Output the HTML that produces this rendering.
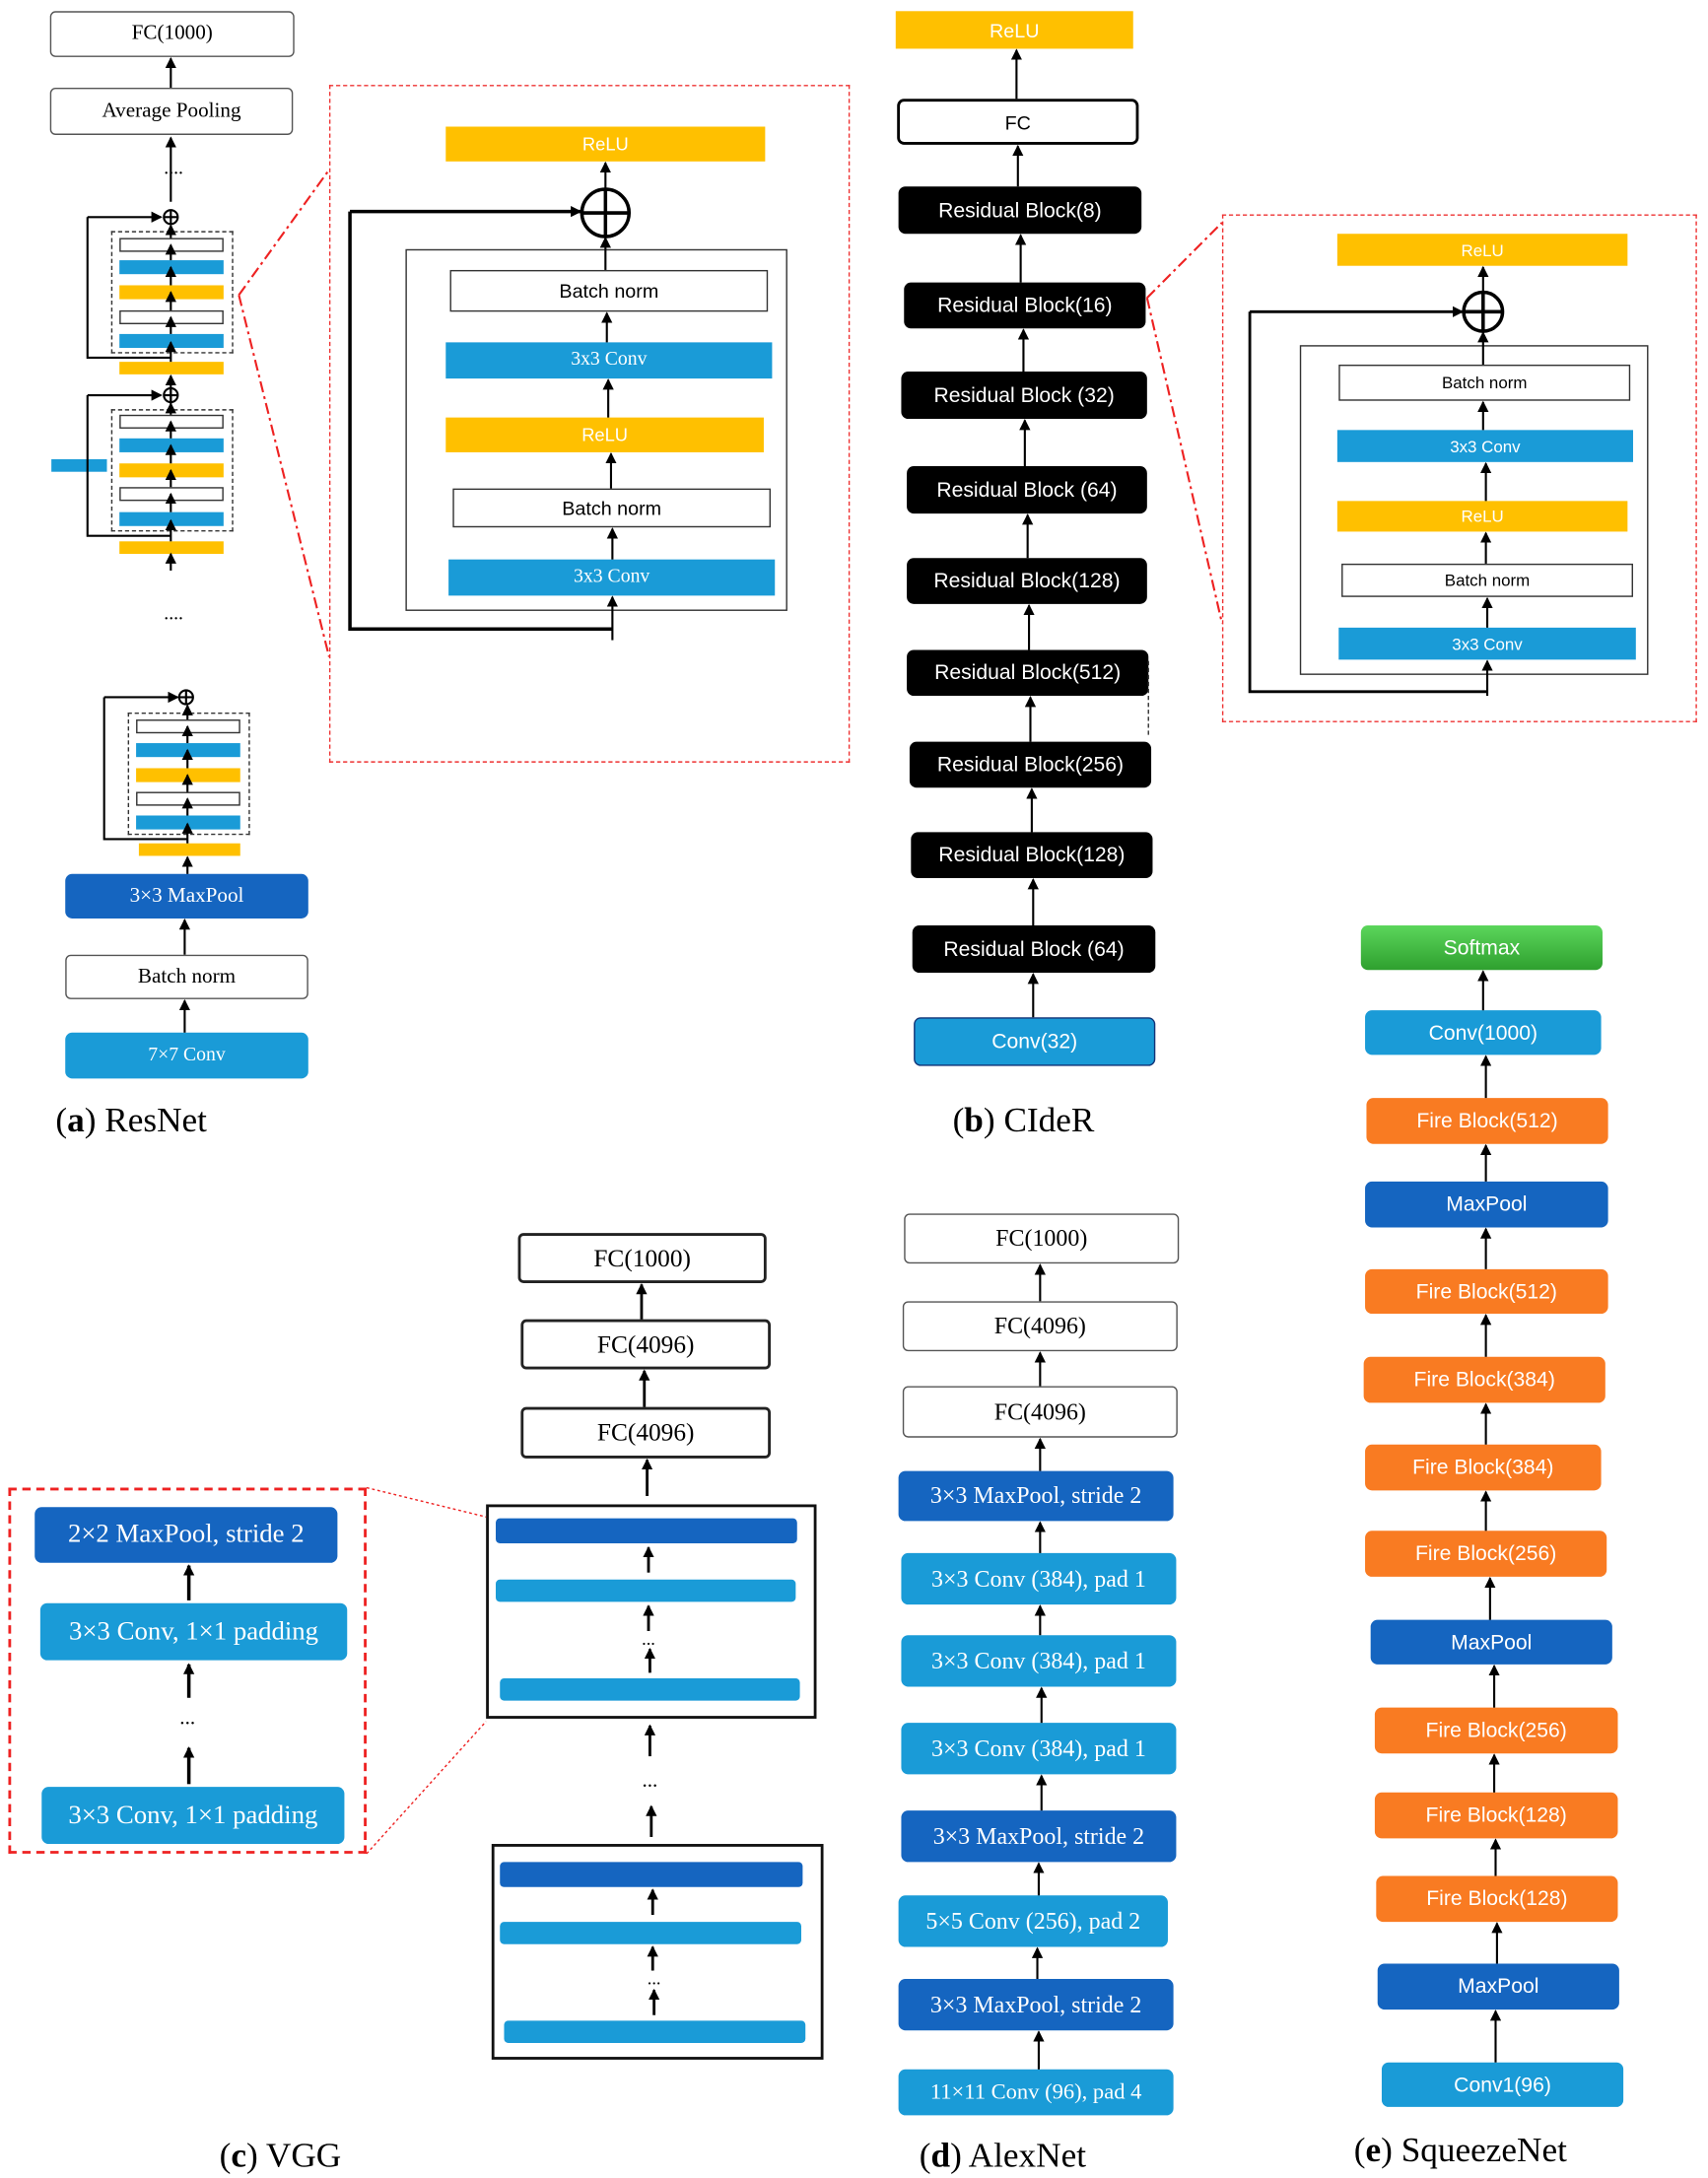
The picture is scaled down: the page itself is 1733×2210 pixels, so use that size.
<!DOCTYPE html>
<html><head><meta charset="utf-8">
<style>
html,body{margin:0;padding:0;background:#fff;}
body{width:1733px;height:2210px;overflow:hidden;position:relative;}
#c{position:absolute;left:0;top:0;width:1225px;height:1565px;transform:scale(1.409,1.4121);transform-origin:0 0;}
.b{position:absolute;box-sizing:border-box;display:flex;align-items:center;justify-content:center;font-family:"Liberation Sans",sans-serif;white-space:nowrap;}
.s{font-family:"Liberation Serif",serif;}
.w{background:#fff;border:1.5px solid #555;border-radius:4px;color:#000;}
.wk{background:#fff;border:1px solid #333;color:#000;}
.bl{background:#1a9bd7;color:#fff;}
.db{background:#1565c0;color:#fff;}
.y{background:#ffc000;color:#fff;}
.k{background:#000;color:#fff;border-radius:5px;font-size:15px;}
.o{background:#f97b22;color:#fff;border-radius:5px;font-size:15px;}
.r{border-radius:5px;}
.cap{position:absolute;font-family:"Liberation Serif",serif;font-size:25px;white-space:nowrap;}
.bar{position:absolute;box-sizing:border-box;}
</style></head><body><div id="c">

<!-- ResNet -->
<div class="b w s" style="left:36px;top:8px;width:176px;height:33px;font-size:15px">FC(1000)</div>
<div class="b w s" style="left:36px;top:63px;width:175px;height:34px;font-size:15px">Average Pooling</div>
<div class="b s" style="left:100px;top:112px;width:50px;height:20px;font-size:14px">....</div>
<div class="b s" style="left:100px;top:432px;width:50px;height:20px;font-size:14px">....</div>
<div class="bar" style="left:80px;top:166px;width:88px;height:88px;border:1.5px dashed #333"></div>
<div class="bar wk" style="left:86px;top:171px;width:75px;height:10px"></div>
<div class="bar bl" style="left:86px;top:187px;width:75px;height:10px"></div>
<div class="bar y" style="left:86px;top:205px;width:75px;height:10px"></div>
<div class="bar wk" style="left:86px;top:223px;width:75px;height:10px"></div>
<div class="bar bl" style="left:86px;top:240px;width:75px;height:10px"></div>
<div class="bar y" style="left:86px;top:260px;width:75px;height:9px"></div>
<div class="bar" style="left:80px;top:294px;width:88px;height:88px;border:1.5px dashed #333"></div>
<div class="bar wk" style="left:86px;top:298px;width:75px;height:10px"></div>
<div class="bar bl" style="left:86px;top:315px;width:75px;height:10px"></div>
<div class="bar y" style="left:86px;top:333px;width:75px;height:10px"></div>
<div class="bar wk" style="left:86px;top:350px;width:75px;height:10px"></div>
<div class="bar bl" style="left:86px;top:368px;width:75px;height:10px"></div>
<div class="bar y" style="left:86px;top:389px;width:75px;height:9px"></div>
<div class="bar bl" style="left:37px;top:330px;width:40px;height:9px"></div>
<div class="bar" style="left:92px;top:512px;width:88px;height:88px;border:1.5px dashed #333"></div>
<div class="bar wk" style="left:98px;top:517px;width:75px;height:10px"></div>
<div class="bar bl" style="left:98px;top:534px;width:75px;height:10px"></div>
<div class="bar y" style="left:98px;top:552px;width:75px;height:10px"></div>
<div class="bar wk" style="left:98px;top:569px;width:75px;height:10px"></div>
<div class="bar bl" style="left:98px;top:586px;width:75px;height:10px"></div>
<div class="bar y" style="left:100px;top:606px;width:73px;height:9px"></div>
<div class="b db s r" style="left:47px;top:628px;width:175px;height:32px;font-size:15px">3×3 MaxPool</div>
<div class="b w s" style="left:47px;top:686px;width:175px;height:32px;font-size:15px">Batch norm</div>
<div class="b bl s r" style="left:47px;top:742px;width:175px;height:33px;font-size:14px">7×7 Conv</div>
<div class="cap" style="left:40px;top:792px">(<b>a</b>) ResNet</div>

<!-- ResNet zoom -->
<div class="bar" style="left:237px;top:61px;width:375px;height:487px;border:1.5px dashed #e33"></div>
<div class="b y" style="left:321px;top:91px;width:230px;height:25px;font-size:13px">ReLU</div>
<div class="bar" style="left:292px;top:179px;width:275px;height:260px;border:1.5px solid #333"></div>
<div class="b wk" style="left:324px;top:194px;width:229px;height:30px;font-size:14px">Batch norm</div>
<div class="b bl s" style="left:321px;top:246px;width:235px;height:26px;font-size:14px">3x3 Conv</div>
<div class="b y" style="left:321px;top:300px;width:229px;height:25px;font-size:13px">ReLU</div>
<div class="b wk" style="left:326px;top:351px;width:229px;height:28px;font-size:14px">Batch norm</div>
<div class="b bl s" style="left:323px;top:402px;width:235px;height:26px;font-size:14px">3x3 Conv</div>

<!-- CIdeR -->
<div class="b y" style="left:645px;top:8px;width:171px;height:27px;font-size:14px">ReLU</div>
<div class="b" style="left:646px;top:71px;width:174px;height:33px;font-size:14px;border:2px solid #000;border-radius:5px">FC</div>
<div class="b k" style="left:647px;top:134px;width:175px;height:34px">Residual Block(8)</div>
<div class="b k" style="left:651px;top:203px;width:174px;height:33px">Residual Block(16)</div>
<div class="b k" style="left:649px;top:267px;width:177px;height:34px">Residual Block (32)</div>
<div class="b k" style="left:653px;top:335px;width:173px;height:34px">Residual Block (64)</div>
<div class="b k" style="left:653px;top:401px;width:173px;height:33px">Residual Block(128)</div>
<div class="b k" style="left:653px;top:467px;width:174px;height:33px">Residual Block(512)</div>
<div class="b k" style="left:655px;top:533px;width:174px;height:33px">Residual Block(256)</div>
<div class="b k" style="left:656px;top:598px;width:174px;height:33px">Residual Block(128)</div>
<div class="b k" style="left:657px;top:665px;width:175px;height:34px">Residual Block (64)</div>
<div class="b bl r" style="left:658px;top:731px;width:174px;height:35px;font-size:15px;border:1px solid #137">Conv(32)</div>
<div class="cap" style="left:686px;top:792px">(<b>b</b>) CIdeR</div>

<!-- CIdeR zoom -->
<div class="bar" style="left:880px;top:154px;width:342px;height:365px;border:1.5px dashed #e33"></div>
<div class="b y" style="left:963px;top:168px;width:209px;height:23px;font-size:12px">ReLU</div>
<div class="bar" style="left:936px;top:248px;width:251px;height:237px;border:1.5px solid #333"></div>
<div class="b wk" style="left:964px;top:262px;width:210px;height:26px;font-size:12px">Batch norm</div>
<div class="b bl" style="left:963px;top:309px;width:213px;height:23px;font-size:12px">3x3 Conv</div>
<div class="b y" style="left:963px;top:360px;width:209px;height:22px;font-size:12px">ReLU</div>
<div class="b wk" style="left:966px;top:405px;width:210px;height:24px;font-size:12px">Batch norm</div>
<div class="b bl" style="left:964px;top:451px;width:214px;height:23px;font-size:12px">3x3 Conv</div>

<!-- SqueezeNet -->
<div class="b r" style="left:980px;top:665px;width:174px;height:32px;font-size:15px;color:#fff;background:linear-gradient(#5cd65c,#2ea02e)">Softmax</div>
<div class="b bl r" style="left:983px;top:726px;width:170px;height:32px;font-size:15px">Conv(1000)</div>
<div class="b o" style="left:984px;top:789px;width:174px;height:33px">Fire Block(512)</div>
<div class="b db r" style="left:983px;top:849px;width:175px;height:33px;font-size:15px">MaxPool</div>
<div class="b o" style="left:983px;top:912px;width:175px;height:32px">Fire Block(512)</div>
<div class="b o" style="left:982px;top:975px;width:174px;height:33px">Fire Block(384)</div>
<div class="b o" style="left:983px;top:1038px;width:170px;height:33px">Fire Block(384)</div>
<div class="b o" style="left:983px;top:1100px;width:174px;height:33px">Fire Block(256)</div>
<div class="b db r" style="left:987px;top:1164px;width:174px;height:32px;font-size:15px">MaxPool</div>
<div class="b o" style="left:990px;top:1227px;width:175px;height:33px">Fire Block(256)</div>
<div class="b o" style="left:990px;top:1288px;width:175px;height:33px">Fire Block(128)</div>
<div class="b o" style="left:991px;top:1348px;width:174px;height:33px">Fire Block(128)</div>
<div class="b db r" style="left:992px;top:1411px;width:174px;height:33px;font-size:15px">MaxPool</div>
<div class="b bl r" style="left:995px;top:1482px;width:174px;height:32px;font-size:15px">Conv1(96)</div>
<div class="cap" style="left:975px;top:1532px">(<b>e</b>) SqueezeNet</div>

<!-- AlexNet -->
<div class="b w s" style="left:651px;top:872px;width:198px;height:36px;font-size:17px">FC(1000)</div>
<div class="b w s" style="left:650px;top:935px;width:198px;height:36px;font-size:17px">FC(4096)</div>
<div class="b w s" style="left:650px;top:996px;width:198px;height:37px;font-size:17px">FC(4096)</div>
<div class="b db s r" style="left:647px;top:1057px;width:198px;height:36px;font-size:17px">3×3 MaxPool, stride 2</div>
<div class="b bl s r" style="left:649px;top:1116px;width:198px;height:37px;font-size:17px">3×3 Conv (384), pad 1</div>
<div class="b bl s r" style="left:649px;top:1175px;width:198px;height:37px;font-size:17px">3×3 Conv (384), pad 1</div>
<div class="b bl s r" style="left:649px;top:1238px;width:198px;height:37px;font-size:17px">3×3 Conv (384), pad 1</div>
<div class="b db s r" style="left:649px;top:1301px;width:198px;height:37px;font-size:17px">3×3 MaxPool, stride 2</div>
<div class="b bl s r" style="left:647px;top:1362px;width:194px;height:37px;font-size:17px">5×5 Conv (256), pad 2</div>
<div class="b db s r" style="left:647px;top:1422px;width:198px;height:37px;font-size:17px">3×3 MaxPool, stride 2</div>
<div class="b bl s r" style="left:647px;top:1487px;width:198px;height:33px;font-size:16px">11×11 Conv (96), pad 4</div>
<div class="cap" style="left:662px;top:1536px">(<b>d</b>) AlexNet</div>

<!-- VGG -->
<div class="b w s" style="left:373px;top:886px;width:179px;height:36px;font-size:18px;border:2px solid #222">FC(1000)</div>
<div class="b w s" style="left:375px;top:948px;width:180px;height:36px;font-size:18px;border:2px solid #222">FC(4096)</div>
<div class="b w s" style="left:375px;top:1011px;width:180px;height:37px;font-size:18px;border:2px solid #222">FC(4096)</div>
<div class="bar" style="left:350px;top:1081px;width:238px;height:154px;border:2px solid #111"></div>
<div class="bar db" style="left:357px;top:1091px;width:217px;height:18px;border-radius:3px"></div>
<div class="bar bl" style="left:357px;top:1135px;width:216px;height:16px;border-radius:3px"></div>
<div class="bar bl" style="left:360px;top:1206px;width:216px;height:16px;border-radius:3px"></div>
<div class="bar" style="left:354px;top:1325px;width:239px;height:155px;border:2px solid #111"></div>
<div class="bar db" style="left:360px;top:1338px;width:218px;height:18px;border-radius:3px"></div>
<div class="bar bl" style="left:360px;top:1381px;width:217px;height:16px;border-radius:3px"></div>
<div class="bar bl" style="left:363px;top:1452px;width:217px;height:16px;border-radius:3px"></div>
<div class="b s" style="left:443px;top:1270px;width:50px;height:20px;font-size:15px">...</div>
<div class="b s" style="left:442px;top:1168px;width:50px;height:20px;font-size:13px">...</div>
<div class="b s" style="left:446px;top:1412px;width:50px;height:20px;font-size:13px">...</div>
<div class="bar" style="left:6px;top:1069px;width:258px;height:263px;border:2px dashed #e22"></div>
<div class="b db s r" style="left:25px;top:1083px;width:218px;height:40px;font-size:19px">2×2 MaxPool, stride 2</div>
<div class="b bl s r" style="left:29px;top:1152px;width:221px;height:41px;font-size:19px">3×3 Conv, 1×1 padding</div>
<div class="b s" style="left:110px;top:1225px;width:50px;height:20px;font-size:15px">...</div>
<div class="b bl s r" style="left:30px;top:1284px;width:218px;height:41px;font-size:19px">3×3 Conv, 1×1 padding</div>
<div class="cap" style="left:158px;top:1536px">(<b>c</b>) VGG</div>

<svg style="position:absolute;left:0;top:0" width="1225" height="1565">
<defs><marker id="a" markerWidth="8" markerHeight="8" refX="7" refY="4" orient="auto" markerUnits="userSpaceOnUse"><path d="M0,0 L8,4 L0,8 z" fill="#000"/></marker></defs>
<g stroke="#000" stroke-width="1.5" fill="none" marker-end="url(#a)">
<line x1="123" y1="63" x2="123" y2="42"/>
<line x1="123" y1="145" x2="123" y2="99"/>
<line x1="123" y1="260" x2="123" y2="246"/><line x1="123" y1="240" x2="123" y2="228"/><line x1="123" y1="223" x2="123" y2="210"/><line x1="123" y1="205" x2="123" y2="192"/><line x1="123" y1="187" x2="123" y2="176"/><line x1="123" y1="171" x2="123" y2="162"/>
<line x1="63" y1="156" x2="116" y2="156"/>
<line x1="123" y1="290" x2="123" y2="270"/>
<line x1="123" y1="389" x2="123" y2="374"/><line x1="123" y1="368" x2="123" y2="355"/><line x1="123" y1="350" x2="123" y2="338"/><line x1="123" y1="333" x2="123" y2="320"/><line x1="123" y1="315" x2="123" y2="303"/><line x1="123" y1="298" x2="123" y2="290"/>
<line x1="63" y1="284" x2="116" y2="284"/>
<line x1="123" y1="410" x2="123" y2="398"/>
<line x1="135" y1="606" x2="135" y2="592"/><line x1="135" y1="586" x2="135" y2="574"/><line x1="135" y1="569" x2="135" y2="557"/><line x1="135" y1="552" x2="135" y2="539"/><line x1="135" y1="534" x2="135" y2="522"/><line x1="135" y1="517" x2="135" y2="507"/>
<line x1="75" y1="501" x2="128" y2="501"/>
<line x1="135" y1="628" x2="135" y2="616"/>
<line x1="133" y1="686" x2="133" y2="661"/>
<line x1="133" y1="742" x2="133" y2="719"/>
<line x1="436" y1="136" x2="436" y2="117"/>
<line x1="436" y1="194" x2="436" y2="171"/>
<line x1="437" y1="246" x2="437" y2="225"/>
<line x1="438" y1="300" x2="438" y2="273"/>
<line x1="440" y1="351" x2="440" y2="326"/>
<line x1="441" y1="402" x2="441" y2="380"/>
<line x1="441" y1="460" x2="441" y2="429"/>
<line x1="252" y1="152" x2="418" y2="152" stroke-width="2.5"/>
<line x1="732" y1="71" x2="732" y2="36"/><line x1="733" y1="134" x2="733" y2="105"/><line x1="735" y1="203" x2="735" y2="169"/><line x1="737" y1="267" x2="737" y2="237"/><line x1="738" y1="335" x2="738" y2="302"/><line x1="740" y1="401" x2="740" y2="370"/><line x1="741" y1="467" x2="741" y2="435"/><line x1="742" y1="533" x2="742" y2="501"/><line x1="743" y1="598" x2="743" y2="567"/><line x1="744" y1="665" x2="744" y2="632"/><line x1="744" y1="731" x2="744" y2="700"/>
<line x1="1068" y1="210" x2="1068" y2="192"/><line x1="1068" y1="262" x2="1068" y2="239"/><line x1="1068" y1="309" x2="1068" y2="289"/><line x1="1070" y1="360" x2="1070" y2="333"/><line x1="1070" y1="405" x2="1070" y2="383"/><line x1="1071" y1="451" x2="1071" y2="430"/><line x1="1071" y1="500" x2="1071" y2="475"/>
<line x1="900" y1="224" x2="1053" y2="224" stroke-width="2"/>
<line x1="1068" y1="726" x2="1068" y2="698"/><line x1="1070" y1="789" x2="1070" y2="759"/><line x1="1070" y1="849" x2="1070" y2="823"/><line x1="1070" y1="912" x2="1070" y2="883"/><line x1="1070" y1="975" x2="1070" y2="945"/><line x1="1070" y1="1038" x2="1070" y2="1009"/><line x1="1070" y1="1100" x2="1070" y2="1072"/><line x1="1073" y1="1164" x2="1073" y2="1134"/><line x1="1076" y1="1227" x2="1076" y2="1197"/><line x1="1076" y1="1288" x2="1076" y2="1261"/><line x1="1077" y1="1348" x2="1077" y2="1322"/><line x1="1078" y1="1411" x2="1078" y2="1382"/><line x1="1077" y1="1482" x2="1077" y2="1445"/>
<line x1="749" y1="935" x2="749" y2="909"/><line x1="749" y1="996" x2="749" y2="972"/><line x1="749" y1="1057" x2="749" y2="1034"/><line x1="749" y1="1116" x2="749" y2="1094"/><line x1="749" y1="1175" x2="749" y2="1154"/><line x1="750" y1="1238" x2="750" y2="1213"/><line x1="750" y1="1301" x2="750" y2="1276"/><line x1="748" y1="1362" x2="748" y2="1339"/><line x1="747" y1="1422" x2="747" y2="1400"/><line x1="748" y1="1487" x2="748" y2="1460"/>
<line x1="462" y1="948" x2="462" y2="923" stroke-width="2"/><line x1="464" y1="1011" x2="464" y2="985" stroke-width="2"/><line x1="466" y1="1075" x2="466" y2="1049" stroke-width="2"/>
<line x1="467" y1="1130" x2="467" y2="1112" stroke-width="2"/><line x1="467" y1="1172" x2="467" y2="1154" stroke-width="2"/><line x1="468" y1="1202" x2="468" y2="1185" stroke-width="2"/>
<line x1="468" y1="1262" x2="468" y2="1240" stroke-width="2"/><line x1="469" y1="1320" x2="469" y2="1298" stroke-width="2"/>
<line x1="470" y1="1376" x2="470" y2="1358" stroke-width="2"/><line x1="470" y1="1416" x2="470" y2="1399" stroke-width="2"/><line x1="471" y1="1448" x2="471" y2="1430" stroke-width="2"/>
<line x1="136" y1="1150" x2="136" y2="1125" stroke-width="2.5"/><line x1="136" y1="1220" x2="136" y2="1196" stroke-width="2.5"/><line x1="136" y1="1282" x2="136" y2="1256" stroke-width="2.5"/>
</g>
<g stroke="#000" stroke-width="1.5" fill="none">
<polyline points="123,257 63,257 63,156"/>
<polyline points="123,385 63,385 63,284"/>
<polyline points="135,603 75,603 75,501"/>
<circle cx="123" cy="156" r="5"/><line x1="118" y1="156" x2="128" y2="156"/><line x1="123" y1="151" x2="123" y2="161"/>
<circle cx="123" cy="284" r="5"/><line x1="118" y1="284" x2="128" y2="284"/><line x1="123" y1="279" x2="123" y2="289"/>
<circle cx="134" cy="501" r="5"/><line x1="129" y1="501" x2="139" y2="501"/><line x1="134" y1="496" x2="134" y2="506"/>
<polyline points="441,452 252,452 252,152" stroke-width="2.5"/>
<circle cx="436" cy="153" r="17" stroke-width="2.5"/><line x1="419" y1="153" x2="453" y2="153" stroke-width="2.5"/><line x1="436" y1="136" x2="436" y2="170" stroke-width="2.5"/>
<polyline points="1071,497 900,497 900,224" stroke-width="2"/>
<circle cx="1068" cy="224" r="14" stroke-width="2.5"/><line x1="1054" y1="224" x2="1082" y2="224" stroke-width="2.5"/><line x1="1068" y1="210" x2="1068" y2="238" stroke-width="2.5"/>
</g>
<g stroke="#e22" stroke-width="1.5" fill="none" stroke-dasharray="8,3,2,3">
<line x1="172" y1="212" x2="237" y2="122"/><line x1="172" y1="212" x2="237" y2="472"/>
<line x1="826" y1="214" x2="880" y2="160"/><line x1="826" y1="214" x2="880" y2="448"/>
</g>
<line x1="827" y1="475" x2="827" y2="528" stroke="#333" stroke-dasharray="3,2"/>
<g stroke="#e22" stroke-width="1" stroke-dasharray="2,2">
<line x1="264" y1="1069" x2="350" y2="1090"/><line x1="264" y1="1332" x2="350" y2="1237"/>
</g>
</svg>
</div></body></html>
